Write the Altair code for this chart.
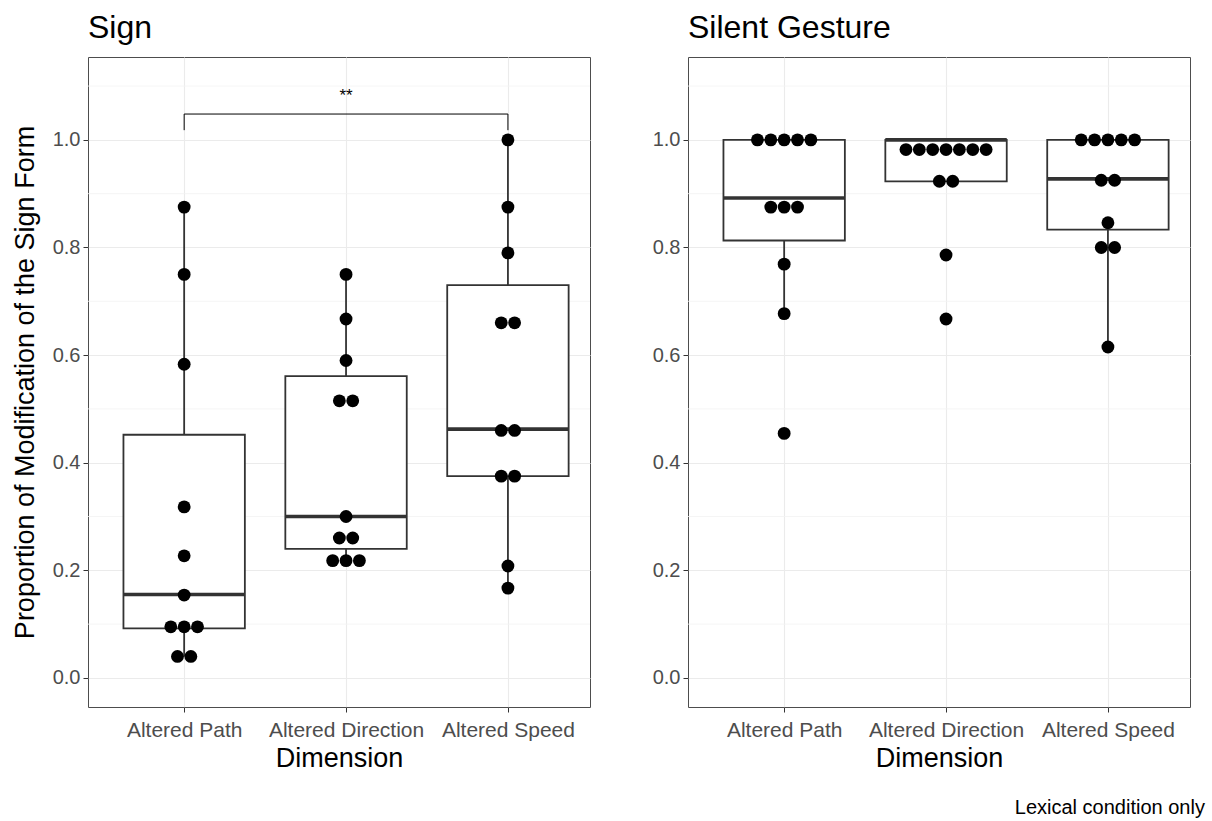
import altair as alt
import pandas as pd

# ---------------- data ----------------
categories = ["Altered Path", "Altered Direction", "Altered Speed"]

# dot positions (as drawn by the dot plot)
sign_path = [0.875, 0.75, 0.583, 0.318, 0.227, 0.154, 0.095, 0.095, 0.095, 0.04, 0.04]
sign_direction = [0.75, 0.667, 0.59, 0.515, 0.515, 0.30, 0.26, 0.26, 0.218, 0.218, 0.218]
sign_speed = [1.0, 0.875, 0.79, 0.66, 0.66, 0.46, 0.46, 0.375, 0.375, 0.208, 0.167]

gest_path = [1.0, 1.0, 1.0, 1.0, 1.0, 0.875, 0.875, 0.875, 0.769, 0.677, 0.4545]
gest_direction = [0.982, 0.982, 0.982, 0.982, 0.982, 0.982, 0.982, 0.923, 0.923, 0.786, 0.667]
gest_speed = [1.0, 1.0, 1.0, 1.0, 1.0, 0.925, 0.925, 0.846, 0.80, 0.80, 0.615]

# box statistics (whisker low, Q1, median, Q3, whisker high) per category
sign_lower = [0.04, 0.218, 0.167]
sign_q1 = [0.092, 0.24, 0.375]
sign_median = [0.155, 0.30, 0.4625]
sign_q3 = [0.452, 0.561, 0.73]
sign_upper = [0.875, 0.75, 1.0]

gest_lower = [0.677, 0.923, 0.615]
gest_q1 = [0.813, 0.923, 0.833]
gest_median = [0.892, 1.0, 0.9275]
gest_q3 = [1.0, 1.0, 1.0]
gest_upper = [1.0, 1.0, 1.0]

# significance annotation (Sign panel): between category 1 and 3
bracket_from = 1
bracket_to = 3
bracket_level = 1.048
bracket_tip = 1.018
bracket_label = "**"
bracket_label_level = 1.082

y_breaks = [0.0, 0.2, 0.4, 0.6, 0.8, 1.0]
y_minor = [0.1, 0.3, 0.5, 0.7, 0.9, 1.1]

# ---------------- style ----------------
FONT = "Liberation Sans"
DOT_STEP = 0.0825      # horizontal stacking step of dots, in category units
BOX_HALF = 0.375       # half box width, in category units
X_DOMAIN = [0.406, 3.507]
Y_DOMAIN = [-0.054, 1.154]
PANEL_W, PANEL_H = 502, 650
DARK = "#333333"

label_expr = " : ".join(
    f"datum.value == {i} ? '{c}'" for i, c in enumerate(categories[:-1], start=1)
) + f" : '{categories[-1]}'"


def dots_frame(values_by_cat):
    rows = []
    for i, (cat, vals) in enumerate(zip(categories, values_by_cat), start=1):
        counts = {}
        for v in vals:
            counts[v] = counts.get(v, 0) + 1
        seen = {}
        for v in vals:
            k = seen.get(v, 0)
            seen[v] = k + 1
            n = counts[v]
            rows.append({"category": cat, "pos": i + (k - (n - 1) / 2) * DOT_STEP, "value": v})
    return pd.DataFrame(rows)


def box_frame(lower, q1, med, q3, upper):
    rows = []
    for i, cat in enumerate(categories, start=1):
        rows.append({
            "category": cat, "idx": i, "left": i - BOX_HALF, "right": i + BOX_HALF,
            "lower": lower[i - 1], "q1": q1[i - 1], "median": med[i - 1],
            "q3": q3[i - 1], "upper": upper[i - 1],
        })
    return pd.DataFrame(rows)


def panel(title, dots_df, box_df, y_title, bracket=False):
    xscale = alt.Scale(domain=X_DOMAIN, nice=False, zero=False)
    yscale = alt.Scale(domain=Y_DOMAIN, nice=False, zero=False)
    xaxis = alt.Axis(values=[1, 2, 3], labelExpr=label_expr, title="Dimension",
                     grid=True, gridColor="#EBEBEB", gridWidth=1.1,
                     domain=False, ticks=True, tickColor=DARK, tickSize=5, tickWidth=1,
                     labelFontSize=21, labelColor="#4D4D4D", labelPadding=7,
                     titleFontSize=27, titleFontWeight="normal", titleColor="black",
                     titlePadding=5, labelFont=FONT, titleFont=FONT)
    yaxis = alt.Axis(values=y_breaks, format=".1f", title=y_title,
                     grid=True, gridColor="#EBEBEB", gridWidth=1.1,
                     domain=False, ticks=True, tickColor=DARK, tickSize=5, tickWidth=1,
                     labelFontSize=20, labelColor="#4D4D4D", labelPadding=3,
                     titleFontSize=27, titleFontWeight="normal", titleColor="black",
                     titlePadding=13, labelFont=FONT, titleFont=FONT)

    def X(field):
        return alt.X(f"{field}:Q", scale=xscale, axis=xaxis)

    def Y(field):
        return alt.Y(f"{field}:Q", scale=yscale, axis=yaxis)

    minor = alt.Chart(pd.DataFrame({"m": y_minor})).mark_rule(
        color="#F2F2F2", strokeWidth=0.8
    ).encode(y=Y("m"))

    base = alt.Chart(box_df)
    whisk_low = base.transform_filter("datum.lower < datum.q1").mark_rule(
        color=DARK, strokeWidth=1.8
    ).encode(x=X("idx"), y=Y("lower"), y2="q1")
    whisk_high = base.transform_filter("datum.upper > datum.q3").mark_rule(
        color=DARK, strokeWidth=1.8
    ).encode(x=X("idx"), y=Y("q3"), y2="upper")
    box = base.mark_rect(fill="white", stroke=DARK, strokeWidth=1.8).encode(
        x=X("left"), x2="right", y=Y("q1"), y2="q3"
    )
    med = base.mark_rule(color=DARK, strokeWidth=3.6).encode(
        x=X("left"), x2="right", y=Y("median")
    )
    dots = alt.Chart(dots_df).mark_circle(size=165, color="black", opacity=1).encode(
        x=X("pos"), y=Y("value")
    )
    layers = [minor, whisk_low, whisk_high, box, med, dots]

    if bracket:
        seg = pd.DataFrame([
            {"x": bracket_from, "x2": bracket_to, "y": bracket_level, "y2": bracket_level},
            {"x": bracket_from, "x2": bracket_from, "y": bracket_tip, "y2": bracket_level},
            {"x": bracket_to, "x2": bracket_to, "y": bracket_tip, "y2": bracket_level},
        ])
        br = alt.Chart(seg).mark_rule(color="black", strokeWidth=1).encode(
            x=X("x"), x2="x2", y=Y("y"), y2="y2"
        )
        lab = alt.Chart(pd.DataFrame({
            "x": [(bracket_from + bracket_to) / 2], "y": [bracket_label_level], "t": [bracket_label]
        })).mark_text(font=FONT, fontSize=17, color="black", baseline="middle").encode(
            x=X("x"), y=Y("y"), text="t:N"
        )
        layers += [br, lab]

    return alt.layer(*layers).properties(
        width=PANEL_W, height=PANEL_H,
        view=alt.ViewBackground(stroke="#4D4D4D", strokeWidth=1),
        title=alt.TitleParams(title, anchor="start", frame="group", fontSize=32,
                              fontWeight="normal", font=FONT, color="black", offset=12),
    )


sign_chart = panel("Sign", dots_frame([sign_path, sign_direction, sign_speed]),
                   box_frame(sign_lower, sign_q1, sign_median, sign_q3, sign_upper),
                   "Proportion of Modification of the Sign Form", bracket=True)
gest_chart = panel("Silent Gesture", dots_frame([gest_path, gest_direction, gest_speed]),
                   box_frame(gest_lower, gest_q1, gest_median, gest_q3, gest_upper),
                   "")

chart = alt.hconcat(sign_chart, gest_chart, spacing=60).properties(
    title=alt.TitleParams("Lexical condition only", orient="bottom", anchor="end",
                          fontSize=20, fontWeight="normal", font=FONT, color="black",
                          offset=26, dx=14),
    padding={"left": 10, "top": 11, "right": 5, "bottom": 5},
).configure_view(stroke="#4D4D4D", strokeWidth=1).configure(font=FONT, background="white")

chart.save("out.html", embed_options={"renderer": "svg", "actions": False})
